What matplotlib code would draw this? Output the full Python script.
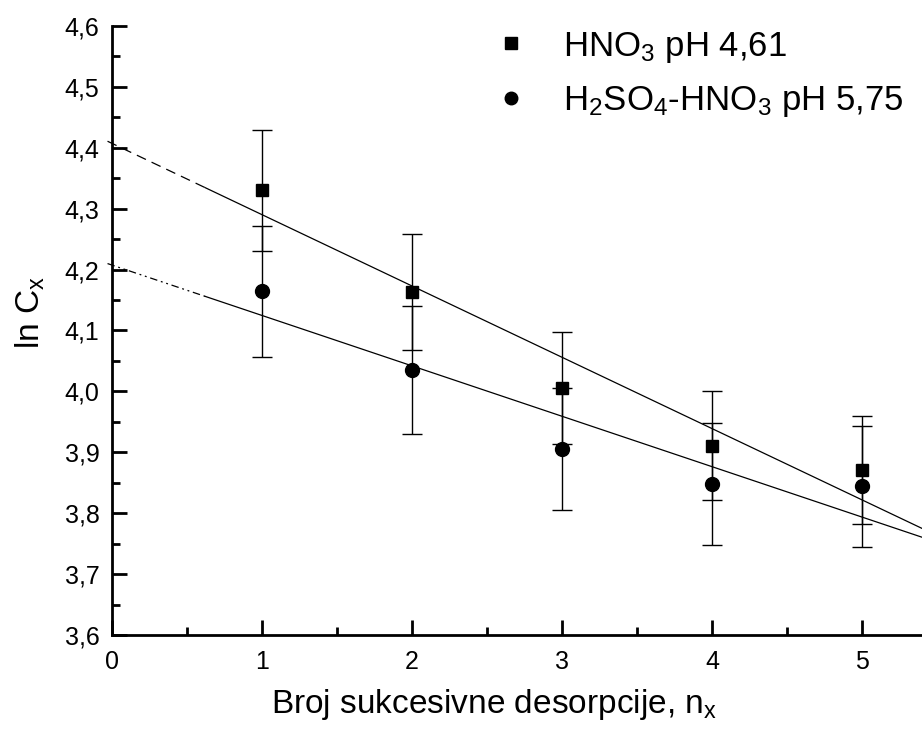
import numpy as np
import matplotlib
matplotlib.use("Agg")
import matplotlib.pyplot as plt
from matplotlib.ticker import MultipleLocator, FuncFormatter
from matplotlib.lines import Line2D

plt.rcParams['font.family'] = ['Liberation Sans', 'DejaVu Sans']
plt.rcParams['mathtext.fontset'] = 'custom'
plt.rcParams['mathtext.rm'] = 'Liberation Sans'
plt.rcParams['mathtext.it'] = 'Liberation Sans:italic'
plt.rcParams['mathtext.default'] = 'regular'

# Data
n_x = [1, 2, 3, 4, 5]
hno3_vals = [4.330, 4.163, 4.005, 3.911, 3.871]
hno3_err = [0.099, 0.095, 0.092, 0.089, 0.089]
mix_vals = [4.164, 4.035, 3.905, 3.848, 3.844]
mix_err = [0.107, 0.105, 0.100, 0.100, 0.100]
labels = [r'HNO$_3$ pH 4,61', r'H$_2$SO$_4$-HNO$_3$ pH 5,75']

fig = plt.figure(figsize=(9.22, 7.36), dpi=100)
ax = fig.add_axes([0.1215, 0.137, 0.8785, 0.828])

ax.errorbar(n_x, hno3_vals, yerr=hno3_err, fmt='s', color='black', ms=9,
            ecolor='black', elinewidth=1, capsize=7, capthick=1, zorder=3)
ax.errorbar(n_x, mix_vals, yerr=mix_err, fmt='o', color='black', ms=10,
            ecolor='black', elinewidth=1, capsize=7, capthick=1, zorder=3)

# linear fits
for vals, ls in [(hno3_vals, (0, (8, 5))), (mix_vals, (0, (6, 3, 1.5, 3, 1.5, 3)))]:
    k, b = np.polyfit(n_x, vals, 1)
    xe = np.array([-0.03, 0.62])
    ax.plot(xe, k * xe + b, color='black', lw=0.9, ls=ls, clip_on=False)
    xs = np.array([0.62, 5.6])
    ax.plot(xs, k * xs + b, color='black', lw=0.9, ls='-')

ax.set_xlim(0, 5.4)
ax.set_ylim(3.6, 4.6)
ax.xaxis.set_major_locator(MultipleLocator(1))
ax.xaxis.set_minor_locator(MultipleLocator(0.5))
ax.yaxis.set_major_locator(MultipleLocator(0.1))
ax.yaxis.set_minor_locator(MultipleLocator(0.05))
ax.yaxis.set_major_formatter(FuncFormatter(lambda v, p: f'{v:.1f}'.replace('.', ',')))
ax.xaxis.set_major_formatter(FuncFormatter(lambda v, p: f'{v:.0f}'))

for s in ['top', 'right']:
    ax.spines[s].set_visible(False)
for s in ['left', 'bottom']:
    ax.spines[s].set_linewidth(2)

ax.tick_params(which='major', direction='in', length=11, width=2, labelsize=18)
ax.tick_params(which='minor', direction='in', length=6, width=2)
ax.tick_params(axis='y', which='major', pad=9)
ax.tick_params(axis='x', which='major', pad=11)

ax.set_xlabel(r'Broj sukcesivne desorpcije, n$_x$', fontsize=24)
ax.set_ylabel(r'ln C$_x$', fontsize=24)
ax.xaxis.set_label_coords(0.472, -0.085)
ax.yaxis.set_label_coords(-0.08, 0.53)

handles = [Line2D([], [], ls='none', marker='s', color='black', ms=8),
           Line2D([], [], ls='none', marker='o', color='black', ms=9)]
leg = ax.legend(handles, labels, loc='upper right', bbox_to_anchor=(1.016, 1.045),
                frameon=False, fontsize=25, handletextpad=0.9, labelspacing=0.55,
                handlelength=1.2)

fig.savefig('out.png', dpi=100)
